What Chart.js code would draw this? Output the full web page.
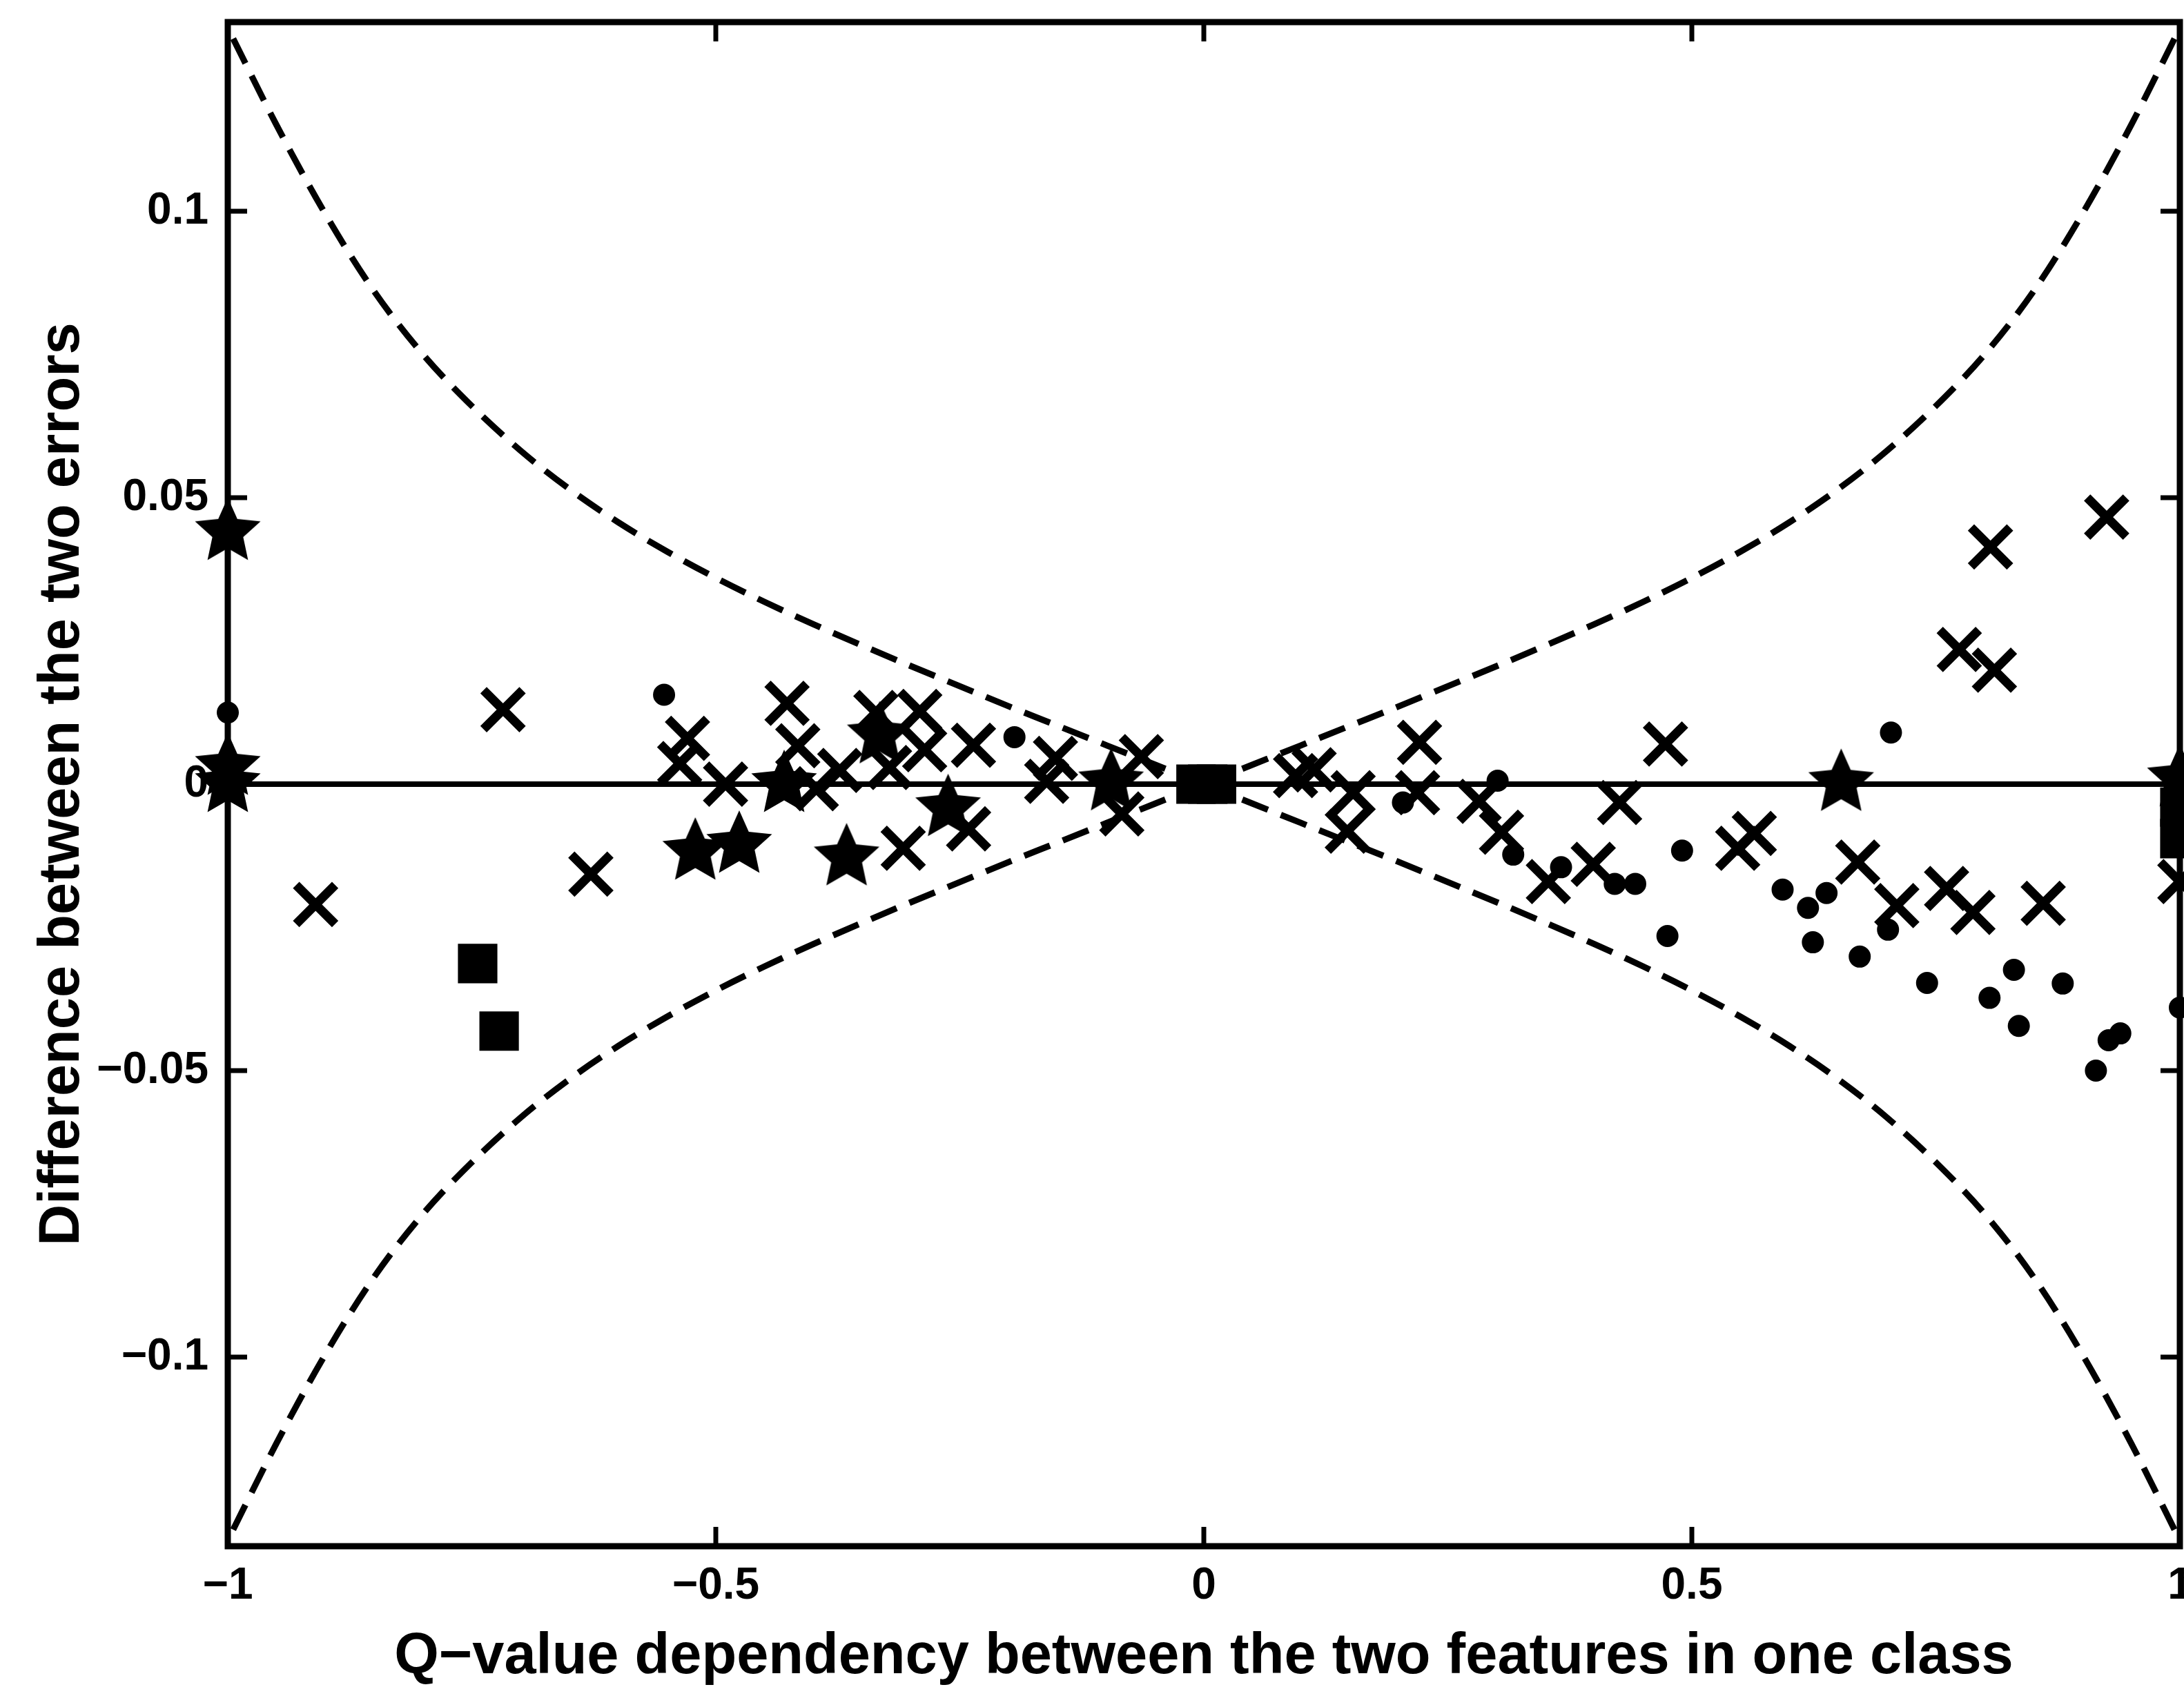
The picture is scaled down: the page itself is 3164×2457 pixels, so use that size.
<!DOCTYPE html>
<html lang="en">
<head>
<meta charset="UTF-8">
<title>Difference between the two errors vs Q-value dependency</title>
<script src="https://cdn.jsdelivr.net/npm/chart.js"></script>
<style>
  html, body { margin: 0; padding: 0; background: #fff; overflow: hidden; }
  #wrap { width: 3164px; height: 2457px; }
  canvas { display: block; }
</style>
</head>
<body>
<div id="wrap"><canvas id="chart" width="3164" height="2457"></canvas></div>
<script>
// axis ticks
const xTicks = [-1, -0.5, 0, 0.5, 1];
const yTicks = [-0.1, -0.05, 0, 0.05, 0.1];

// dashed bounds: |Q| against |difference| (same shape in all four quadrants)
const boundQ = [0, 0.05, 0.1, 0.15, 0.2, 0.25, 0.3, 0.35, 0.4, 0.45, 0.5,
                0.55, 0.6, 0.65, 0.7, 0.75, 0.8, 0.85, 0.9, 0.95, 1];
const boundD = [0, 0.0034, 0.0068, 0.0102, 0.0136, 0.0171, 0.0206, 0.0242, 0.0279, 0.0318, 0.036,
                0.0406, 0.0457, 0.0515, 0.0582, 0.066, 0.075, 0.086, 0.0995, 0.115, 0.132];

// the solid zero line
const zeroQ = [-1, 1];
const zeroD = [0, 0];

// markers, [Q, difference]
const crossPts = [
  [-0.91, -0.021], [-0.718, 0.013], [-0.628, -0.0157],
  [-0.529, 0.008], [-0.537, 0.0036], [-0.427, 0.0141], [-0.416, 0.0067], [-0.49, 0.0],
  [-0.397, -0.0008], [-0.373, 0.0024], [-0.336, 0.0125], [-0.291, 0.0127], [-0.286, 0.006],
  [-0.322, 0.0029], [-0.236, 0.0068], [-0.152, 0.0045], [-0.161, 0.0005], [-0.064, 0.0048],
  [-0.084, -0.0052], [-0.241, -0.0078], [-0.308, -0.0112],
  [0.094, 0.0015], [0.113, 0.0025], [0.153, -0.0015], [0.147, -0.0082], [0.221, 0.0073],
  [0.219, -0.0015], [0.282, -0.003], [0.305, -0.0084], [0.353, -0.017], [0.399, -0.014],
  [0.426, -0.0032], [0.473, 0.007], [0.547, -0.0112], [0.564, -0.0086], [0.67, -0.0136],
  [0.71, -0.0212], [0.761, -0.0182], [0.788, -0.0224], [0.86, -0.0208],
  [0.774, 0.0235], [0.81, 0.0199], [0.806, 0.0414], [0.925, 0.0466], [1.0, -0.017]
];
const dotPts = [
  [-1, 0.0125], [-0.553, 0.0156], [-0.194, 0.0082],
  [0.204, -0.0032], [0.301, 0.0006], [0.317, -0.0123], [0.366, -0.0145], [0.421, -0.0174],
  [0.442, -0.0174], [0.49, -0.0116], [0.475, -0.0265], [0.593, -0.0184], [0.619, -0.0216],
  [0.638, -0.019], [0.624, -0.0276], [0.672, -0.0301], [0.701, -0.0254], [0.704, 0.009],
  [0.741, -0.0347], [0.805, -0.0373], [0.83, -0.0324], [0.835, -0.0422], [0.88, -0.0348],
  [0.914, -0.05], [0.927, -0.0447], [0.939, -0.0435], [1.0, -0.039]
];
const starPts = [
  [-1, 0.044], [-1, 0.003], [-1, 0.0], [-0.521, -0.0118], [-0.476, -0.0106], [-0.366, -0.0128],
  [-0.43, 0.0], [-0.332, 0.0085], [-0.262, -0.0042], [-0.095, 0.0003], [0.653, 0.0002], [1.0, 0.001]
];
const squarePts = [
  [-0.744, -0.0313], [-0.722, -0.0431], [-0.008, 0.0], [0.004, 0.0], [0.013, 0.0],
  [1.0, -0.004], [1.0, -0.0095]
];

const FONT = 'Liberation Sans, Arial, Helvetica, sans-serif';
const toXY = pts => pts.map(p => ({ x: p[0], y: p[1] }));
const fmt = v => String(v).replace('-', '\u2212');

// filled five-pointed star used as a marker glyph
function starGlyph(r) {
  const s = Math.ceil(r * 2) + 6;
  const c = document.createElement('canvas');
  c.width = s; c.height = s;
  const g = c.getContext('2d');
  g.translate(s / 2, s / 2);
  g.beginPath();
  for (let k = 0; k < 10; k++) {
    const a = -Math.PI / 2 + k * Math.PI / 5;
    const rr = k % 2 === 0 ? r : r * 0.47;
    g.lineTo(Math.cos(a) * rr, Math.sin(a) * rr);
  }
  g.closePath();
  g.fillStyle = '#000';
  g.fill();
  return c;
}

function curve(sx, sy) {
  return {
    data: boundQ.map((q, i) => ({ x: sx * q, y: sy * boundD[i] })),
    showLine: true,
    borderColor: '#000',
    borderWidth: 9,
    borderDash: [40, 20],
    pointRadius: 0,
    cubicInterpolationMode: 'monotone',
    fill: false
  };
}

// box round the plot with ticks pointing inwards on all four sides
const frameTicks = {
  id: 'frameTicks',
  beforeDatasetsDraw(chart) {
    const { ctx, chartArea: a, scales: { x, y } } = chart;
    const len = 28;
    ctx.save();
    ctx.strokeStyle = '#000';
    ctx.lineWidth = 9;
    ctx.strokeRect(a.left, a.top, a.right - a.left, a.bottom - a.top);
    ctx.lineWidth = 7;
    ctx.beginPath();
    x.ticks.forEach(t => {
      const px = x.getPixelForValue(t.value);
      ctx.moveTo(px, a.bottom); ctx.lineTo(px, a.bottom - len);
      ctx.moveTo(px, a.top); ctx.lineTo(px, a.top + len);
    });
    y.ticks.forEach(t => {
      const py = y.getPixelForValue(t.value);
      ctx.moveTo(a.left, py); ctx.lineTo(a.left + len, py);
      ctx.moveTo(a.right, py); ctx.lineTo(a.right - len, py);
    });
    ctx.stroke();
    ctx.restore();
  }
};

const tickFont = { family: FONT, size: 64, weight: 'bold' };
const titleFont = { family: FONT, size: 83, weight: 'bold' };

new Chart(document.getElementById('chart'), {
  type: 'scatter',
  data: {
    datasets: [
      curve(-1, 1), curve(-1, -1), curve(1, 1), curve(1, -1),
      {
        data: zeroQ.map((q, i) => ({ x: q, y: zeroD[i] })),
        showLine: true, borderColor: '#000', borderWidth: 8, pointRadius: 0
      },
      {
        data: toXY(crossPts), pointStyle: 'crossRot', pointRadius: 40,
        borderColor: '#000', pointBorderWidth: 13, clip: false
      },
      {
        data: toXY(dotPts), pointStyle: 'circle', pointRadius: 15,
        backgroundColor: '#000', borderColor: '#000', pointBorderWidth: 2, clip: false
      },
      {
        data: toXY(squarePts), pointStyle: 'rect', pointRadius: 39,
        backgroundColor: '#000', borderColor: '#000', pointBorderWidth: 2, clip: false
      },
      {
        data: toXY(starPts), pointStyle: starGlyph(50), clip: false
      }
    ]
  },
  options: {
    responsive: false,
    animation: false,
    devicePixelRatio: 1,
    events: [],
    layout: { autoPadding: false, padding: { top: 32, right: 6, bottom: 0, left: 0 } },
    plugins: { legend: { display: false }, tooltip: { enabled: false } },
    scales: {
      x: {
        type: 'linear', min: -1, max: 1,
        grid: { display: false, drawTicks: false }, border: { display: false },
        afterBuildTicks: s => { s.ticks = xTicks.map(v => ({ value: v })); },
        afterFit: s => { s.height = 217; s.paddingLeft = 0; s.paddingRight = 0; },
        ticks: { color: '#000', font: tickFont, padding: 20, maxRotation: 0, autoSkip: false, callback: v => fmt(v) },
        title: {
          display: true, color: '#000', font: titleFont,
          text: 'Q\u2212value dependency between the two features in one class',
          padding: { top: 0, bottom: 6 }
        }
      },
      y: {
        type: 'linear', min: -0.133, max: 0.133,
        grid: { display: false, drawTicks: false }, border: { display: false },
        afterBuildTicks: s => { s.ticks = yTicks.map(v => ({ value: v })); },
        afterFit: s => { s.width = 330; s.paddingTop = 0; s.paddingBottom = 0; },
        ticks: { color: '#000', font: tickFont, padding: 28, autoSkip: false, callback: v => fmt(v) },
        title: {
          display: true, color: '#000', font: titleFont,
          text: 'Difference between the two errors',
          padding: { top: 41, bottom: 0 }
        }
      }
    }
  },
  plugins: [frameTicks]
});
</script>
</body>
</html>
